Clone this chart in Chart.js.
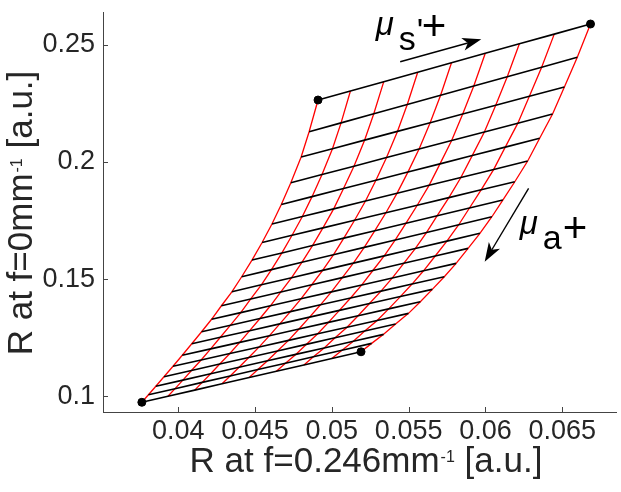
<!DOCTYPE html>
<html>
<head>
<meta charset="utf-8">
<script src="https://cdn.jsdelivr.net/npm/chart.js@4.4.1/dist/chart.umd.min.js"></script>
<style>
  html, body { margin: 0; padding: 0; background: #fff; }
  #wrap { width: 621px; height: 492px; }
</style>
</head>
<body>
<div id="wrap"><canvas id="c" width="621" height="492"></canvas></div>
<script>
const xTicks = [0.04, 0.045, 0.05, 0.055, 0.06, 0.065];
const xTickLabels = ['0.04', '0.045', '0.05', '0.055', '0.06', '0.065'];
const yTicks = [0.1, 0.15, 0.2, 0.25];
const yTickLabels = ['0.1', '0.15', '0.2', '0.25'];

// rows = constant mu_a (black), columns = constant mu_s' (red)
const gridX = [
  [0.04910, 0.05121, 0.05338, 0.05559, 0.05779, 0.05999, 0.06221, 0.06448, 0.06684],
  [0.04852, 0.05060, 0.05273, 0.05491, 0.05708, 0.05924, 0.06142, 0.06366, 0.06598],
  [0.04800, 0.05004, 0.05213, 0.05427, 0.05640, 0.05852, 0.06067, 0.06286, 0.06514],
  [0.04733, 0.04936, 0.05144, 0.05356, 0.05568, 0.05780, 0.05993, 0.06211, 0.06437],
  [0.04671, 0.04871, 0.05076, 0.05287, 0.05495, 0.05704, 0.05914, 0.06129, 0.06353],
  [0.04610, 0.04808, 0.05012, 0.05219, 0.05425, 0.05633, 0.05840, 0.06054, 0.06275],
  [0.04546, 0.04741, 0.04942, 0.05148, 0.05352, 0.05556, 0.05762, 0.05972, 0.06191],
  [0.04480, 0.04675, 0.04874, 0.05078, 0.05280, 0.05483, 0.05686, 0.05896, 0.06113],
  [0.04413, 0.04607, 0.04805, 0.05010, 0.05211, 0.05413, 0.05617, 0.05826, 0.06042],
  [0.04349, 0.04541, 0.04738, 0.04940, 0.05140, 0.05341, 0.05543, 0.05749, 0.05964],
  [0.04281, 0.04472, 0.04668, 0.04869, 0.05068, 0.05267, 0.05468, 0.05673, 0.05887],
  [0.04217, 0.04407, 0.04600, 0.04799, 0.04997, 0.05195, 0.05394, 0.05597, 0.05809],
  [0.04152, 0.04340, 0.04532, 0.04730, 0.04926, 0.05122, 0.05320, 0.05522, 0.05732],
  [0.04088, 0.04274, 0.04465, 0.04661, 0.04855, 0.05049, 0.05245, 0.05446, 0.05654],
  [0.04026, 0.04211, 0.04400, 0.04594, 0.04786, 0.04978, 0.05171, 0.05370, 0.05576],
  [0.03966, 0.04149, 0.04336, 0.04527, 0.04718, 0.04908, 0.05099, 0.05295, 0.05499],
  [0.03907, 0.04086, 0.04270, 0.04459, 0.04646, 0.04833, 0.05021, 0.05214, 0.05415],
  [0.03854, 0.04030, 0.04211, 0.04396, 0.04581, 0.04765, 0.04950, 0.05140, 0.05337],
  [0.03806, 0.03979, 0.04156, 0.04338, 0.04518, 0.04698, 0.04880, 0.05066, 0.05259],
  [0.03763, 0.03933, 0.04107, 0.04285, 0.04462, 0.04639, 0.04818, 0.05000, 0.05190]
];
const gridY = [
  [0.22650, 0.23036, 0.23433, 0.23838, 0.24241, 0.24644, 0.25050, 0.25465, 0.25897],
  [0.21295, 0.21673, 0.22061, 0.22459, 0.22853, 0.23247, 0.23644, 0.24051, 0.24474],
  [0.20214, 0.20570, 0.20935, 0.21309, 0.21680, 0.22051, 0.22424, 0.22807, 0.23205],
  [0.19115, 0.19464, 0.19823, 0.20190, 0.20554, 0.20918, 0.21285, 0.21661, 0.22051],
  [0.18184, 0.18521, 0.18866, 0.19219, 0.19570, 0.19921, 0.20275, 0.20637, 0.21013],
  [0.17350, 0.17671, 0.17999, 0.18336, 0.18670, 0.19004, 0.19340, 0.19685, 0.20043],
  [0.16560, 0.16869, 0.17186, 0.17511, 0.17833, 0.18155, 0.18480, 0.18813, 0.19158],
  [0.15812, 0.16117, 0.16430, 0.16750, 0.17068, 0.17386, 0.17707, 0.18035, 0.18376],
  [0.15098, 0.15403, 0.15716, 0.16036, 0.16354, 0.16672, 0.16993, 0.17321, 0.17662],
  [0.14457, 0.14754, 0.15059, 0.15371, 0.15680, 0.15990, 0.16302, 0.16621, 0.16953],
  [0.13859, 0.14151, 0.14450, 0.14757, 0.15061, 0.15365, 0.15672, 0.15986, 0.16312],
  [0.13282, 0.13566, 0.13858, 0.14156, 0.14453, 0.14749, 0.15048, 0.15353, 0.15671],
  [0.12748, 0.13028, 0.13314, 0.13608, 0.13900, 0.14191, 0.14485, 0.14786, 0.15098],
  [0.12235, 0.12512, 0.12795, 0.13086, 0.13374, 0.13663, 0.13953, 0.14251, 0.14560],
  [0.11744, 0.12016, 0.12295, 0.12581, 0.12864, 0.13148, 0.13433, 0.13726, 0.14030],
  [0.11274, 0.11543, 0.11819, 0.12101, 0.12381, 0.12662, 0.12944, 0.13233, 0.13534],
  [0.10825, 0.11093, 0.11368, 0.11649, 0.11929, 0.12208, 0.12489, 0.12778, 0.13077],
  [0.10419, 0.10683, 0.10954, 0.11231, 0.11506, 0.11781, 0.12058, 0.12342, 0.12637],
  [0.10056, 0.10317, 0.10585, 0.10860, 0.11132, 0.11404, 0.11679, 0.11960, 0.12252],
  [0.09735, 0.09992, 0.10255, 0.10525, 0.10792, 0.11060, 0.11330, 0.11606, 0.11893]
];
// corner markers of the table
const cornerX = [0.03763, 0.04910, 0.06684, 0.05190];
const cornerY = [0.09735, 0.22650, 0.25897, 0.11893];

const xTitle = ['R at f=0.246mm', '-1', ' [a.u.]'];
const yTitle = ['R at f=0mm', '-1', ' [a.u.]'];

// annotation anchors, in data units
const scatArrow = { from: [0.05445, 0.24286], to: [0.05973, 0.25244], text: [0.05285, 0.25427] };
const absArrow = { from: [0.06281, 0.18876], to: [0.05995, 0.15739], text: [0.06223, 0.16944] };

const FONT = "'Liberation Sans', Arial, Helvetica, sans-serif";
const AXIS = '#444';

const blackSets = gridX.map((row, i) => ({
  data: row.map((x, j) => ({ x, y: gridY[i][j] })),
  borderColor: '#000', borderWidth: 1.6, showLine: true, pointRadius: 0, order: 1
}));
const redSets = gridX[0].map((_, j) => ({
  data: gridX.map((row, i) => ({ x: row[j], y: gridY[i][j] })),
  borderColor: '#ff0000', borderWidth: 1.3, showLine: true, pointRadius: 0, order: 2
}));
const cornerSet = {
  data: cornerX.map((x, k) => ({ x, y: cornerY[k] })),
  backgroundColor: '#000', borderColor: '#000', pointRadius: 4, showLine: false, order: 0
};

function drawParts(ctx, parts, mainSize, supSize) {
  const main = `${mainSize}px ${FONT}`, sup = `${supSize}px ${FONT}`;
  ctx.font = main; const w0 = ctx.measureText(parts[0]).width;
  ctx.font = sup; const w1 = ctx.measureText(parts[1]).width + 1;
  ctx.font = main; const w2 = ctx.measureText(parts[2]).width;
  let x = -(w0 + w1 + w2) / 2;
  ctx.textBaseline = 'alphabetic'; ctx.textAlign = 'left';
  ctx.font = main; ctx.fillText(parts[0], x, 0); x += w0 + 1;
  ctx.font = sup; ctx.fillText(parts[1], x, -10); x += w1 - 1;
  ctx.font = main; ctx.fillText(parts[2], x, 0);
}

function drawArrow(ctx, x1, y1, x2, y2) {
  const a = Math.atan2(y2 - y1, x2 - x1);
  const len = 19, half = 6.5, notch = 5;
  const bx = x2 - Math.cos(a) * (len - notch), by = y2 - Math.sin(a) * (len - notch);
  ctx.beginPath(); ctx.moveTo(x1, y1); ctx.lineTo(bx, by); ctx.stroke();
  ctx.beginPath();
  ctx.moveTo(x2, y2);
  ctx.lineTo(x2 - Math.cos(a) * len - Math.sin(a) * half, y2 - Math.sin(a) * len + Math.cos(a) * half);
  ctx.lineTo(bx, by);
  ctx.lineTo(x2 - Math.cos(a) * len + Math.sin(a) * half, y2 - Math.sin(a) * len - Math.cos(a) * half);
  ctx.closePath(); ctx.fill();
}

const decor = {
  id: 'decor',
  afterDatasetsDraw(chart) {
    const { ctx, scales: { x, y } } = chart;
    ctx.save();
    ctx.strokeStyle = '#000'; ctx.fillStyle = '#000'; ctx.lineWidth = 1.4;
    for (const arr of [scatArrow, absArrow]) {
      drawArrow(ctx, x.getPixelForValue(arr.from[0]), y.getPixelForValue(arr.from[1]),
        x.getPixelForValue(arr.to[0]), y.getPixelForValue(arr.to[1]));
    }
    ctx.textBaseline = 'alphabetic'; ctx.textAlign = 'left';
    // mu_s'+
    let px = x.getPixelForValue(scatArrow.text[0]), py = y.getPixelForValue(scatArrow.text[1]);
    ctx.font = `italic 33px ${FONT}`; ctx.fillText('μ', px, py);
    ctx.font = `34px ${FONT}`; ctx.fillText('s', px + 23, py + 15);
    ctx.fillText("'", px + 41, py + 7);
    ctx.font = `42px ${FONT}`; ctx.fillText('+', px + 46, py + 5);
    // mu_a+
    px = x.getPixelForValue(absArrow.text[0]); py = y.getPixelForValue(absArrow.text[1]);
    ctx.font = `italic 33px ${FONT}`; ctx.fillText('μ', px, py);
    ctx.font = `34px ${FONT}`; ctx.fillText('a', px + 23, py + 15);
    ctx.font = `42px ${FONT}`; ctx.fillText('+', px + 43, py + 8);
    ctx.restore();
  },
  afterDraw(chart) {
    const { ctx, chartArea: ca, scales: { x, y } } = chart;
    ctx.save();
    // inward tick marks
    ctx.strokeStyle = AXIS; ctx.lineWidth = 1;
    ctx.beginPath();
    xTicks.forEach(v => { const p = Math.round(x.getPixelForValue(v)) + 0.5; ctx.moveTo(p, ca.bottom); ctx.lineTo(p, ca.bottom - 5); });
    yTicks.forEach(v => { const p = Math.round(y.getPixelForValue(v)) + 0.5; ctx.moveTo(ca.left, p); ctx.lineTo(ca.left + 5, p); });
    ctx.stroke();
    // axis titles
    ctx.fillStyle = '#262626';
    ctx.save(); ctx.translate(366, 472); drawParts(ctx, xTitle, 35, 16); ctx.restore();
    ctx.save(); ctx.translate(32, 213); ctx.rotate(-Math.PI / 2); drawParts(ctx, yTitle, 35, 16); ctx.restore();
    ctx.restore();
  }
};

new Chart(document.getElementById('c'), {
  type: 'scatter',
  data: { datasets: [...blackSets, ...redSets, cornerSet] },
  options: {
    responsive: false, animation: false, devicePixelRatio: 1,
    layout: { padding: { top: 12, right: 1, left: 0, bottom: 0 } },
    plugins: { legend: { display: false }, tooltip: { enabled: false } },
    scales: {
      x: {
        type: 'linear', min: 0.0351, max: 0.0685,
        afterBuildTicks: s => { s.ticks = xTicks.map(v => ({ value: v })); },
        afterFit: s => { s.height = 80; s.paddingLeft = 0; s.paddingRight = 0; },
        ticks: {
          callback: v => xTickLabels[xTicks.indexOf(v)],
          font: { family: FONT, size: 27 }, color: '#262626', padding: 3,
          maxRotation: 0, autoSkip: false
        },
        grid: { drawOnChartArea: false, drawTicks: false },
        border: { color: AXIS, width: 1 }
      },
      y: {
        type: 'linear', min: 0.0932, max: 0.2641,
        afterBuildTicks: s => { s.ticks = yTicks.map(v => ({ value: v })); },
        afterFit: s => { s.width = 103; s.paddingTop = 0; s.paddingBottom = 0; },
        ticks: {
          callback: v => yTickLabels[yTicks.indexOf(v)],
          font: { family: FONT, size: 27 }, color: '#262626', padding: 8,
          autoSkip: false
        },
        grid: { drawOnChartArea: false, drawTicks: false },
        border: { color: AXIS, width: 1 }
      }
    }
  },
  plugins: [decor]
});
</script>
</body>
</html>
